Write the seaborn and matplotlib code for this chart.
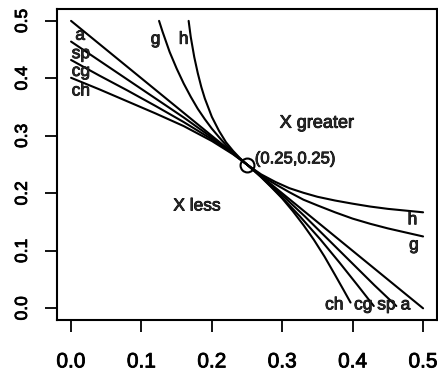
import matplotlib
matplotlib.use("Agg")
import matplotlib.pyplot as plt
import matplotlib.patheffects as pe
import pandas as pd
import seaborn as sns

# Iso-curves through the common point (0.25, 0.25)
x_a = [0.000, 0.500]
y_a = [0.500, 0.000]

x_sp = [0.000, 0.040, 0.080, 0.120, 0.160, 0.200, 0.230, 0.250,
        0.270, 0.297, 0.332, 0.365, 0.398, 0.431, 0.462]
y_sp = [0.464, 0.431, 0.398, 0.365, 0.332, 0.297, 0.270, 0.250,
        0.230, 0.200, 0.160, 0.120, 0.080, 0.040, 0.004]

x_cg = [0.000, 0.040, 0.080, 0.120, 0.160, 0.200, 0.230, 0.250,
        0.269, 0.294, 0.325, 0.354, 0.381, 0.407, 0.430]
y_cg = [0.432, 0.405, 0.379, 0.352, 0.324, 0.294, 0.269, 0.250,
        0.230, 0.200, 0.160, 0.120, 0.080, 0.040, 0.004]

x_ch = [0.000, 0.040, 0.080, 0.120, 0.160, 0.200, 0.230, 0.250,
        0.260, 0.270, 0.285, 0.300, 0.315, 0.330, 0.345, 0.360,
        0.375, 0.387, 0.397]
y_ch = [0.401, 0.381, 0.360, 0.339, 0.317, 0.291, 0.268, 0.250,
        0.239, 0.228, 0.210, 0.191, 0.169, 0.145, 0.119, 0.090,
        0.058, 0.032, 0.010]

x_g = [0.125, 0.130, 0.140, 0.150, 0.160, 0.170, 0.180, 0.190, 0.200,
       0.210, 0.220, 0.230, 0.240, 0.250, 0.270, 0.290, 0.310, 0.330,
       0.350, 0.375, 0.400, 0.425, 0.450, 0.475, 0.500]
y_g = [0.500, 0.481, 0.446, 0.417, 0.391, 0.368, 0.347, 0.329, 0.3125,
       0.298, 0.284, 0.272, 0.260, 0.250, 0.231, 0.216, 0.202, 0.189,
       0.179, 0.167, 0.156, 0.147, 0.139, 0.132, 0.125]

x_h = [0.167, 0.170, 0.175, 0.180, 0.185, 0.190, 0.200, 0.210, 0.220,
       0.230, 0.240, 0.250, 0.270, 0.290, 0.310, 0.330, 0.350, 0.375,
       0.400, 0.425, 0.450, 0.475, 0.500]
y_h = [0.500, 0.472, 0.437, 0.409, 0.385, 0.365, 0.333, 0.309, 0.289,
       0.274, 0.261, 0.250, 0.233, 0.220, 0.209, 0.201, 0.194, 0.1875,
       0.182, 0.177, 0.173, 0.170, 0.167]

curve_names = ["a", "sp", "cg", "ch", "g", "h"]
curve_x = [x_a, x_sp, x_cg, x_ch, x_g, x_h]
curve_y = [y_a, y_sp, y_cg, y_ch, y_g, y_h]

# Curve labels: (text, x, y)
label_text = ["a", "sp", "cg", "ch", "g", "h",
              "h", "g", "ch", "cg", "sp", "a"]
label_x = [0.013, 0.014, 0.014, 0.014, 0.120, 0.160,
           0.485, 0.487, 0.374, 0.415, 0.448, 0.475]
label_y = [0.475, 0.443, 0.412, 0.378, 0.468, 0.468,
           0.154, 0.110, 0.006, 0.006, 0.006, 0.006]

point_x = [0.25]
point_y = [0.25]

x_ticks = [0.0, 0.1, 0.2, 0.3, 0.4, 0.5]
y_ticks = [0.0, 0.1, 0.2, 0.3, 0.4, 0.5]
tick_labels = ["0.0", "0.1", "0.2", "0.3", "0.4", "0.5"]

frames = [pd.DataFrame({"x": xs, "y": ys, "curve": name})
          for name, xs, ys in zip(curve_names, curve_x, curve_y)]
df = pd.concat(frames, ignore_index=True)

sns.set_style("ticks")
plt.rcParams["font.family"] = ["Liberation Sans", "DejaVu Sans"]

# a light outline gives the lettering a slightly heavier stroke
heavy = [pe.withStroke(linewidth=0.6, foreground="black")]

fig = plt.figure(figsize=(4.39, 3.74), dpi=100)
ax = fig.add_axes([0.1298, 0.1449, 0.866, 0.830])

sns.lineplot(data=df, x="x", y="y", units="curve", estimator=None,
             sort=False, color="black", linewidth=1.5, ax=ax)

ax.plot(point_x, point_y, "o", mfc="none", mec="black", ms=10, mew=1.5)
ax.text(point_x[0] + 0.011, point_y[0] + 0.01,
        f"({point_x[0]:.2f},{point_y[0]:.2f})",
        fontsize=12, ha="left", va="center", path_effects=heavy)

for t, lx, ly in zip(label_text, label_x, label_y):
    ax.text(lx, ly, t, fontsize=12.5, ha="center", va="center",
            path_effects=heavy)

ax.text(0.349, 0.322, "X greater", fontsize=13, ha="center", va="center",
        path_effects=heavy)
ax.text(0.179, 0.178, "X less", fontsize=12.5, ha="center", va="center",
        path_effects=heavy)

ax.set_xlim(-0.02, 0.52)
ax.set_ylim(-0.02, 0.52)
ax.set_xticks(x_ticks)
ax.set_xticklabels(tick_labels, fontsize=15, path_effects=heavy)
ax.set_yticks(y_ticks)
ax.set_yticklabels(tick_labels, fontsize=12.5, rotation=90, va="center",
                   path_effects=heavy)
ax.set_xlabel("")
ax.set_ylabel("")

for side in ["left", "right", "top", "bottom"]:
    ax.spines[side].set_visible(True)
    ax.spines[side].set_linewidth(1.5)
    ax.spines[side].set_color("black")
ax.tick_params(axis="both", direction="out", length=8.5, width=1.3,
               color="black", labelcolor="black")
ax.tick_params(axis="x", pad=15)
ax.tick_params(axis="y", pad=11)

fig.savefig("out.png", dpi=100)
